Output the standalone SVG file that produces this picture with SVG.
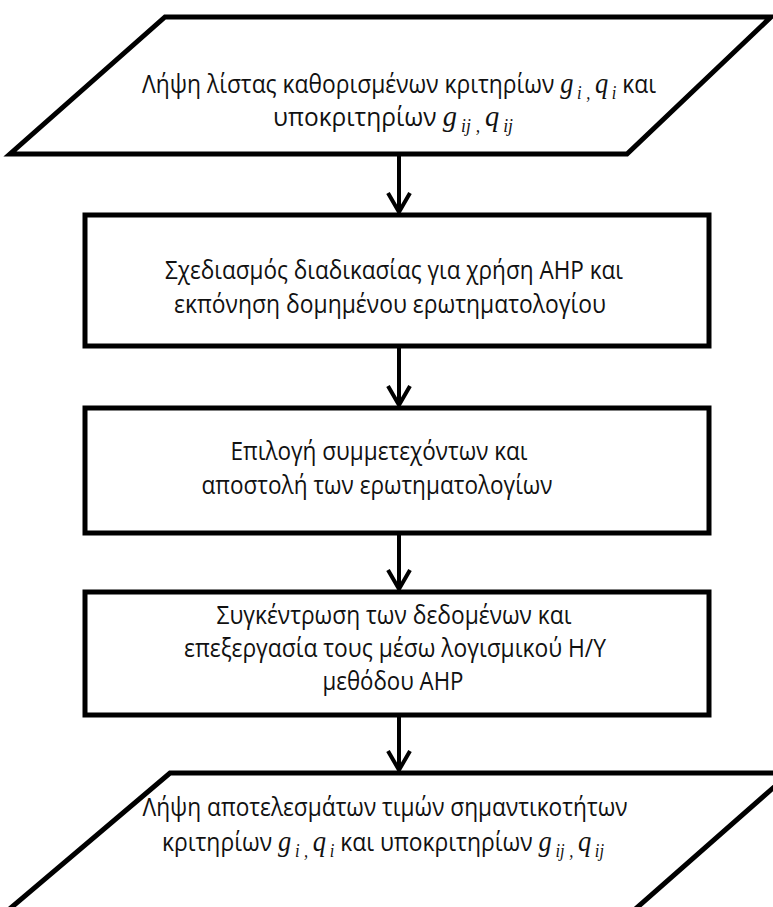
<svg xmlns="http://www.w3.org/2000/svg" width="773" height="907" viewBox="0 0 773 907">
  <style>
    .shape { fill: #ffffff; stroke: #000000; stroke-width: 5; stroke-linejoin: miter; }
    .conn { stroke: #000000; stroke-width: 4; fill: none; }
    .lbl { font-family: "Open Sans", "Noto Sans", "DejaVu Sans", sans-serif; font-size: 25px; fill: #111111; }
    .m { font-family: "Liberation Serif", "DejaVu Serif", serif; font-style: italic; font-size: 29px; }
    .s { font-family: "Liberation Serif", "DejaVu Serif", serif; font-style: italic; font-size: 18px; }
  </style>
  <defs>
    <marker id="arrow" markerUnits="userSpaceOnUse" markerWidth="30" markerHeight="30" refX="0" refY="0" orient="auto" overflow="visible">
      <path d="M-19,-11 L0,0 L-19,11" fill="none" stroke="#000000" stroke-width="4" stroke-linejoin="miter"/>
    </marker>
  </defs>
  <rect width="773" height="907" fill="#ffffff"/>

  <g id="connectors">
    <line class="conn" x1="399" y1="156" x2="399" y2="212" marker-end="url(#arrow)"/>
    <line class="conn" x1="399" y1="348" x2="399" y2="405" marker-end="url(#arrow)"/>
    <line class="conn" x1="399" y1="535" x2="399" y2="589" marker-end="url(#arrow)"/>
    <line class="conn" x1="399" y1="717" x2="399" y2="770" marker-end="url(#arrow)"/>
  </g>

  <g id="input-criteria">
    <polygon class="shape" points="165,17 771,17 627,154 10,154"/>
    <text class="lbl" x="399" y="93" text-anchor="middle" textLength="514" lengthAdjust="spacingAndGlyphs">Λήψη λίστας καθορισμένων κριτηρίων <tspan class="m">g</tspan><tspan class="s" dx="4" dy="6">i</tspan><tspan class="s" dx="5">,</tspan><tspan class="m" dx="5" dy="-6">q</tspan><tspan class="s" dx="4" dy="6">i</tspan><tspan dy="-6"> και</tspan></text>
    <text class="lbl" x="393" y="126" text-anchor="middle" textLength="240" lengthAdjust="spacingAndGlyphs">υποκριτηρίων <tspan class="m">g</tspan><tspan class="s" dx="4" dy="6">ij</tspan><tspan class="s" dx="5">,</tspan><tspan class="m" dx="5" dy="-6">q</tspan><tspan class="s" dx="4" dy="6">ij</tspan></text>
  </g>

  <g id="ahp-design">
    <rect class="shape" x="85" y="215" width="624" height="131"/>
    <text class="lbl" x="394" y="279" text-anchor="middle" textLength="458" lengthAdjust="spacingAndGlyphs">Σχεδιασμός διαδικασίας για χρήση AHP και</text>
    <text class="lbl" x="390" y="313" text-anchor="middle" textLength="432" lengthAdjust="spacingAndGlyphs">εκπόνηση δομημένου ερωτηματολογίου</text>
  </g>

  <g id="participants">
    <rect class="shape" x="85" y="408" width="624" height="125"/>
    <text class="lbl" x="379" y="460" text-anchor="middle" textLength="297" lengthAdjust="spacingAndGlyphs">Επιλογή συμμετεχόντων και</text>
    <text class="lbl" x="377" y="494" text-anchor="middle" textLength="351" lengthAdjust="spacingAndGlyphs">αποστολή των ερωτηματολογίων</text>
  </g>

  <g id="data-processing">
    <rect class="shape" x="85" y="592" width="624" height="123"/>
    <text class="lbl" x="394" y="624" text-anchor="middle" textLength="355" lengthAdjust="spacingAndGlyphs">Συγκέντρωση των δεδομένων και</text>
    <text class="lbl" x="395" y="657" text-anchor="middle" textLength="422" lengthAdjust="spacingAndGlyphs">επεξεργασία τους μέσω λογισμικού Η/Υ</text>
    <text class="lbl" x="393" y="690" text-anchor="middle" textLength="141" lengthAdjust="spacingAndGlyphs">μεθόδου AHP</text>
  </g>

  <g id="output-weights">
    <polygon class="shape" points="170,773 790,773 632,912 6,912"/>
    <text class="lbl" x="385" y="816" text-anchor="middle" textLength="485" lengthAdjust="spacingAndGlyphs">Λήψη αποτελεσμάτων τιμών σημαντικοτήτων</text>
    <text class="lbl" x="383" y="851" text-anchor="middle" textLength="442" lengthAdjust="spacingAndGlyphs">κριτηρίων <tspan class="m">g</tspan><tspan class="s" dx="4" dy="6">i</tspan><tspan class="s" dx="5">,</tspan><tspan class="m" dx="5" dy="-6">q</tspan><tspan class="s" dx="4" dy="6">i</tspan><tspan dy="-6"> και υποκριτηρίων </tspan><tspan class="m">g</tspan><tspan class="s" dx="4" dy="6">ij</tspan><tspan class="s" dx="5">,</tspan><tspan class="m" dx="5" dy="-6">q</tspan><tspan class="s" dx="4" dy="6">ij</tspan></text>
  </g>
</svg>
